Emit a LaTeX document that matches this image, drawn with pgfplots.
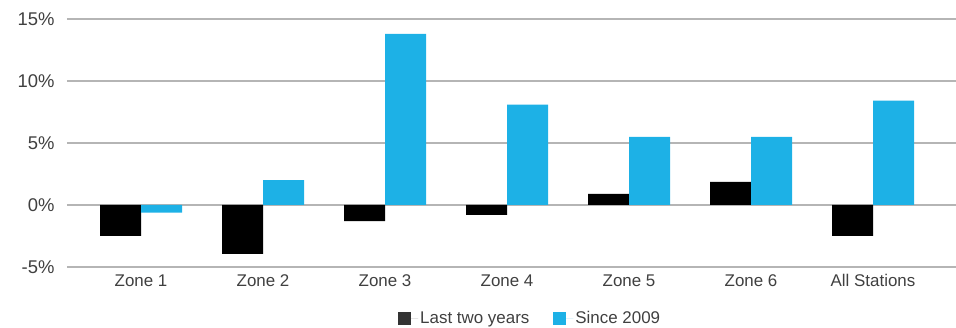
\documentclass[border=0pt]{standalone}
\usepackage{pgfplots}
\pgfplotsset{compat=1.18}
\usepackage{fontspec}
\setmainfont{Liberation Sans}
\definecolor{barblue}{HTML}{1DB1E6}
\definecolor{txt}{HTML}{404040}
\definecolor{gridgray}{HTML}{B5B5B5}
\definecolor{legdark}{HTML}{333333}
\begin{document}
\begin{tikzpicture}
\path[use as bounding box] (-67bp,-61bp) rectangle (889bp,267bp);
\begin{axis}[
  scale only axis,
  width=889bp, height=248bp,
  ymin=-5, ymax=15,
  xmin=-0.607, xmax=6.68,
  ytick={-5,0,5,10,15},
  yticklabel={\pgfmathprintnumber{\tick}\%},
  /pgf/number format/assume math mode=true,
  xtick=data,
  xticklabels={Zone 1,Zone 2,Zone 3,Zone 4,Zone 5,Zone 6,All Stations},
  ymajorgrids=true, xmajorgrids=false,
  major grid style={draw=gridgray, line width=1.2pt},
  axis line style={draw=none},
  major tick length=0pt,
  ybar=0pt,
  bar width=41bp,
  xticklabel style={font=\fontsize{17}{20}\selectfont, text=txt, yshift=-4bp},
  yticklabel style={font=\fontsize{18.5}{22}\selectfont, text=txt, xshift=-9bp},
  legend style={draw=none, at={(0.521,-0.206)}, anchor=center,
    legend columns=2, font=\fontsize{17}{20}\selectfont, text=txt,
    /tikz/every even column/.append style={column sep=22bp}},
  legend image code/.code={\fill[#1] (0bp,-6.5bp) rectangle (13bp,6.5bp); \path (0bp,0bp) -- (20bp,0bp);},
]
\addplot[fill=black, draw=none, legend image post style={fill=legdark}] coordinates {(0,-2.5) (1,-3.95) (2,-1.3) (3,-0.8) (4,0.9) (5,1.86) (6,-2.5)};
\addplot[fill=barblue, draw=none] coordinates {(0,-0.62) (1,2.0) (2,13.8) (3,8.1) (4,5.5) (5,5.5) (6,8.42)};
\legend{Last two years, Since 2009}
\end{axis}
\end{tikzpicture}
\end{document}
